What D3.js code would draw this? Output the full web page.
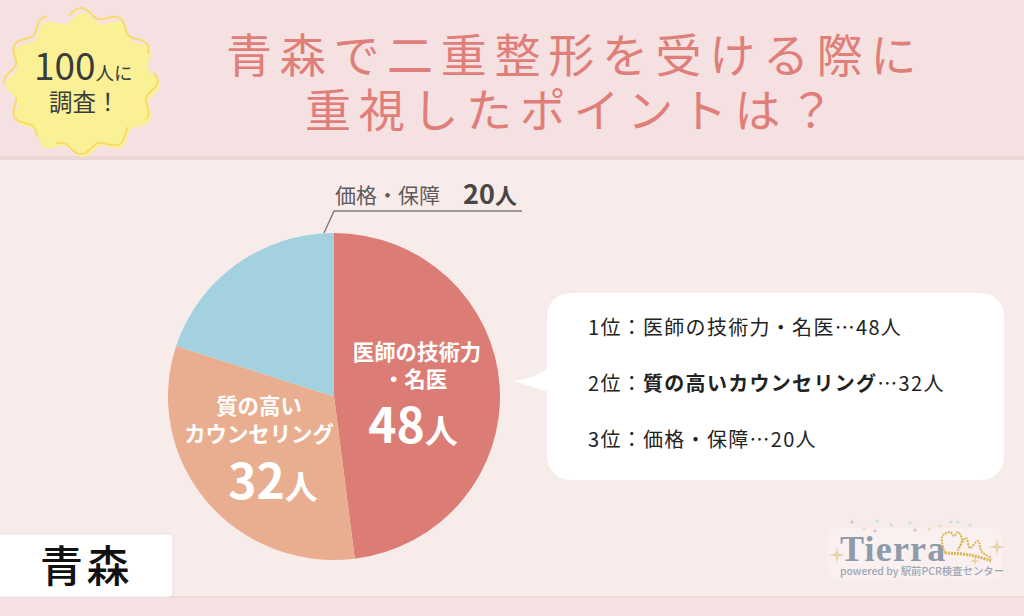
<!DOCTYPE html>
<html lang="ja"><head><meta charset="utf-8">
<script src="https://cdnjs.cloudflare.com/ajax/libs/d3/7.8.5/d3.min.js"></script>
<style>html,body{margin:0;padding:0;background:#f8eceb;overflow:hidden}svg{display:block}text{font-family:"Noto Sans CJK JP","Noto Sans",sans-serif}</style>
</head><body><svg id="c" width="1024" height="616"></svg>
<script>
const categories = ["医師の技術力・名医", "質の高いカウンセリング", "価格・保障"];
const values = [48, 32, 20];
const colors = ["#dc7d75", "#e9ae90", "#a3d1e0"];
const COLON = "\uFF1A";
const rankLabels = ["1位" + COLON + "医師の技術力・名医…48人", "2位" + COLON + "質の高いカウンセリング…32人", "3位" + COLON + "価格・保障…20人"];
const titleLines = ["青森で二重整形を受ける際に", "重視したポイントは\uFF1F"];
const region = "青森";

const svg = d3.select("#c");
const W = 1024, H = 616;
svg.append("rect").attr("width", W).attr("height", H).attr("fill", "#f8eceb");
svg.append("rect").attr("width", W).attr("height", 156).attr("fill", "#f5e1e1");
svg.append("rect").attr("y", 156).attr("width", W).attr("height", 4).attr("fill", "#ecd7d7");
svg.append("rect").attr("y", 596).attr("width", W).attr("height", 20).attr("fill", "#f5e1e1");
svg.append("rect").attr("y", 596).attr("width", W).attr("height", 2).attr("fill", "#f0d8d8");

// title
svg.selectAll("text.title").data(titleLines).join("text").attr("class", "title")
  .attr("x", (d, i) => i ? 305 : 226).attr("y", (d, i) => 72 + i * 55)
  .attr("font-size", 46).attr("letter-spacing", 7.7)
  .attr("fill", "#e07f7a").text(d => d);

// badge
const waves = d3.range(0, 360, 3).map(a => a * Math.PI / 180);
const blob = (R, amp, ph) => d3.lineRadial().angle(a => a).radius(a => R + amp * Math.cos(12 * a + ph)).curve(d3.curveCatmullRomClosed)(waves);
const badge = svg.append("g").attr("transform", "translate(81,81)");
badge.append("path").attr("d", blob(69, 4.5, 0)).attr("fill", "#faf197").attr("transform", "translate(2,4) scale(1.05,0.98)");
badge.append("path").attr("d", blob(70, 4.5, 0)).attr("fill", "none").attr("stroke", "#f9dc68").attr("stroke-width", 2)
  .attr("stroke-dasharray", "88 24 52 20").attr("stroke-linecap", "round").attr("transform", "scale(1.03,0.98)");
const bt = badge.append("text").attr("x", -47).attr("y", -1).attr("fill", "#3c3c3c");
bt.append("tspan").attr("font-size", 37).text("100");
bt.append("tspan").attr("font-size", 18.5).text("人に");
badge.append("text").attr("x", -32).attr("y", 30).attr("font-size", 23.5).attr("fill", "#3c3c3c").text("調査\uFF01");

// pie
const cx = 334, cy = 396.5, Rx = 166, Ry = 163.5;
const pie = d3.pie().sort(null)(values);
const arc = d3.arc().innerRadius(0).outerRadius(165);
const g = svg.append("g").attr("transform", `translate(${cx},${cy}) scale(${Rx / 165},${Ry / 165})`);
g.selectAll("path").data(pie).join("path").attr("d", arc).attr("fill", (d, i) => colors[i]);

// pie labels
const lab = (x, y, size, txt, weight) => svg.append("text").attr("x", x).attr("y", y).attr("text-anchor", "middle")
  .attr("font-size", size).attr("font-weight", weight).attr("fill", "#fff").text(txt);
lab(417, 360, 21.4, "医師の技術力", 700);
lab(415, 387, 21.4, "・名医", 700);
lab(259, 414, 21.4, "質の高い", 700);
lab(259, 442, 21.4, "カウンセリング", 700);
function big(x, y, v) {
  const t = svg.append("text").attr("x", x).attr("y", y).attr("text-anchor", "middle").attr("fill", "#fff").attr("font-weight", 700);
  t.append("tspan").attr("font-size", 48).text(v);
  t.append("tspan").attr("font-size", 33).text("人");
}
big(413, 443, values[0]);
big(273, 499, values[1]);

// callout
svg.append("path").attr("d", d3.line()([[324, 233], [334, 211], [522, 211]])).attr("fill", "none").attr("stroke", "#7f7b7b").attr("stroke-width", 1.4);
svg.append("text").attr("x", 335).attr("y", 203).attr("font-size", 21).attr("fill", "#5f5b5b").text("価格・保障");
const ct = svg.append("text").attr("x", 463).attr("y", 204).attr("fill", "#4a4646").attr("font-weight", 700);
ct.append("tspan").attr("font-size", 27).text(values[2]);
ct.append("tspan").attr("font-size", 22).text("人");

// speech bubble
svg.append("rect").attr("x", 547).attr("y", 293).attr("width", 457).attr("height", 187).attr("rx", 23).attr("fill", "#fff");
svg.append("path").attr("d", "M513,381 Q535,379 549,367 L549,392 Q530,386 513,381Z").attr("fill", "#fff");
svg.selectAll("text.rank").data(rankLabels).join("text").attr("class", "rank")
  .attr("x", 588).attr("y", (d, i) => 335 + i * 56).attr("font-size", 20).attr("letter-spacing", 1.3).attr("fill", "#222")
  .each(function (d, i) {
    const s = d3.select(this), parts = d.split(COLON);
    s.append("tspan").text(parts[0] + COLON);
    s.append("tspan").attr("font-weight", i === 1 ? 700 : 400).text(parts[1].split("…")[0]);
    s.append("tspan").text("…" + parts[1].split("…")[1]);
  });

// region tag
svg.append("rect").attr("x", -8).attr("y", 534).attr("width", 181).attr("height", 63).attr("rx", 4).attr("fill", "#fff").attr("stroke", "#eadfe6").attr("stroke-width", 1);
svg.append("text").attr("x", 40).attr("y", 582).attr("font-size", 43).attr("font-weight", 500).attr("letter-spacing", 3.5).attr("fill", "#111").text(region);

// logo
const logo = svg.append("g");
logo.append("rect").attr("x", 828).attr("y", 528).attr("width", 174).attr("height", 52).attr("rx", 8).attr("fill", "#fbf3f1").attr("opacity", .6);
logo.append("text").attr("x", 840).attr("y", 561).attr("font-weight", 700).attr("font-size", 36).attr("letter-spacing", 1.2).attr("fill", "#8e9bab").style("font-family", "Liberation Serif").text("Tierra");
logo.append("text").attr("x", 840).attr("y", 575).attr("font-size", 10.4).attr("font-weight", 500).attr("fill", "#9aa7b6").text("powered by 駅前PCR検査センター");
const sparkle = { draw(ctx, size) { const r = Math.sqrt(size), q = r * 0.18;
  ctx.moveTo(0, -r); ctx.lineTo(q, -q); ctx.lineTo(r, 0); ctx.lineTo(q, q); ctx.lineTo(0, r); ctx.lineTo(-q, q); ctx.lineTo(-r, 0); ctx.lineTo(-q, -q); ctx.closePath(); } };
const spark = d3.symbol().type(sparkle);
[[852,522,"#d9a9bb",9],[864,529,"#e8d3a8",9],[875,531,"#d9a9bb",9],[877,521,"#a8d6e2",6],[891,525,"#a8d6e2",6],[910,523,"#a8d6e2",6],[915,530,"#d9a9bb",9],[929,529,"#e8d3a8",9],[940,526,"#e8d3a8",9],[951,522,"#a8d6e2",6],[958,522,"#a8d6e2",6],[970,525,"#a8d6e2",6],[837,555,"#e8d3a8",64],[997,547,"#e8d3a8",64],[975,561,"#e8d3a8",25]].forEach(d =>
  logo.append("path").attr("d", spark.size(d[3])()).attr("transform", `translate(${d[0]},${d[1]})`).attr("fill", d[2]));
const crown = d3.line().curve(d3.curveCatmullRom)([[945,553],[942,537],[950,532],[954,536],[958,532],[962,540],[958,550],[966,538],[970,548],[978,541],[982,552],[992,558]]);
logo.append("path").attr("d", crown).attr("fill", "none").attr("stroke", "#d9b64f").attr("stroke-width", 2).attr("stroke-dasharray", "2 1");
logo.append("path").attr("d", d3.line().curve(d3.curveCatmullRom)([[945,553],[970,555],[992,561]])).attr("fill", "none").attr("stroke", "#d9b64f").attr("stroke-width", 3).attr("stroke-dasharray", "2 1");
</script></body></html>
